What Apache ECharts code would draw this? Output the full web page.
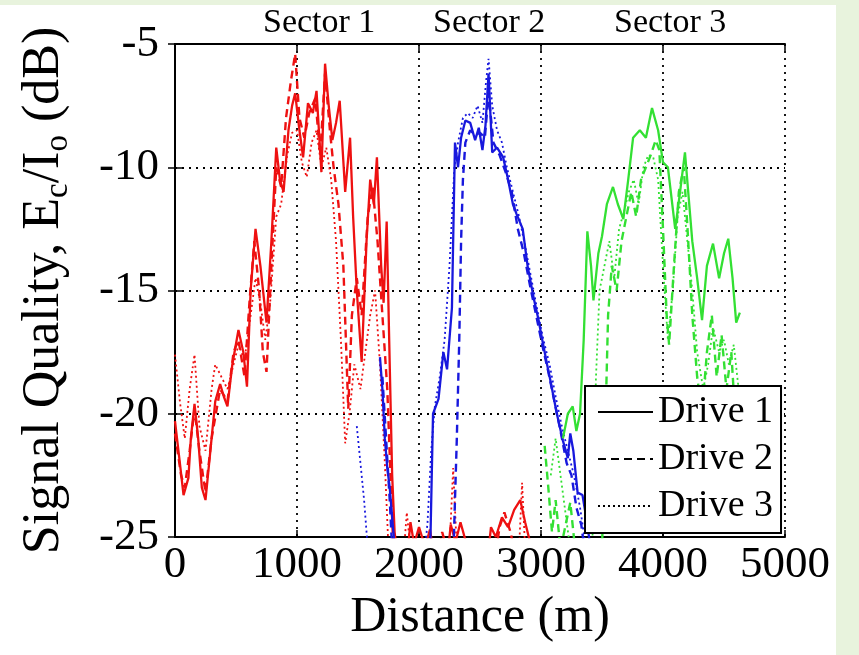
<!DOCTYPE html>
<html>
<head>
<meta charset="utf-8">
<script src="https://cdn.jsdelivr.net/npm/echarts@6/dist/echarts.min.js"></script>
<style>
  html, body { margin: 0; padding: 0; background: #fff; }
  #chart { width: 859px; height: 655px; }
</style>
</head>
<body>
<div id="chart"></div>
<script>
// distance (m), Ec/Io (dB); values below -25 are off the plot
var sector1Drive1 = [[0,-20.3],[40,-22],[70,-23.3],[110,-22.6],[130,-21],[160,-19.6],[190,-21],[220,-23],[250,-23.5],[290,-21.5],[330,-19.5],[370,-18.8],[400,-19.3],[430,-19.7],[470,-18],[520,-16.6],[560,-17.5],[590,-18.9],[620,-15],[660,-12.5],[700,-14],[750,-16.3],[790,-13],[830,-9.2],[860,-10.5],[890,-11],[930,-8.5],[960,-7.5],[985,-7],[1020,-8.5],[1050,-9.6],[1090,-7.4],[1130,-7.8],[1160,-6.9],[1200,-10.2],[1230,-5.8],[1260,-7.5],[1290,-8.9],[1320,-8.2],[1350,-7.3],[1395,-11],[1435,-8.8],[1460,-12],[1490,-15],[1530,-17.9],[1570,-13],[1600,-10.5],[1630,-11.5],[1655,-9.6],[1690,-14],[1710,-15.5],[1735,-12.2],[1760,-18],[1780,-22.5],[1800,-24.8],[1830,-26],[1900,-26],[1930,-24.4],[1960,-25.3],[2000,-24.6],[2050,-25.4],[2090,-24.7],[2130,-26],[2230,-26],[2260,-24.5],[2300,-25.2],[2340,-24.4],[2390,-25.3],[2430,-26],[2560,-26],[2590,-24.6],[2630,-25],[2680,-24.2],[2730,-24.6],[2780,-23.9],[2830,-23.5],[2870,-24.4],[2910,-25.2],[2950,-26]];
var sector1Drive2 = [[0,-20.8],[50,-22.5],[80,-23],[120,-21.5],[160,-19.8],[200,-21.5],[250,-23.2],[300,-21],[370,-19],[430,-19.5],[480,-17.5],[520,-17],[570,-18.5],[610,-15.5],[650,-13],[690,-15],[720,-17.5],[750,-18.3],[790,-14],[830,-10],[870,-10.8],[910,-8],[950,-6.5],[985,-5.4],[1020,-8],[1060,-8.8],[1100,-7.8],[1150,-7.2],[1190,-9.5],[1230,-6.2],[1270,-8.5],[1300,-10],[1340,-11.5],[1380,-14],[1420,-19.8],[1450,-16],[1490,-14.5],[1530,-16],[1580,-12],[1620,-10.8],[1660,-13],[1700,-16],[1740,-19],[1770,-23],[1790,-25.5],[1850,-26],[2150,-26],[2190,-24.8],[2230,-25.5],[2620,-26],[2660,-24.6],[2700,-24],[2750,-24.8],[2800,-26]];
var sector1Drive3 = [[0,-17.6],[40,-19.5],[80,-21],[120,-19],[160,-17.6],[200,-20.5],[250,-21.5],[300,-19],[330,-18],[380,-18.5],[430,-19],[480,-18],[520,-17.2],[570,-17.8],[620,-16],[660,-14.5],[700,-15.5],[740,-17],[780,-15.5],[830,-12],[870,-11.5],[920,-9.5],[960,-8.6],[1000,-8.5],[1040,-9.8],[1080,-10.4],[1120,-9],[1160,-8.5],[1200,-10],[1240,-9.2],[1280,-10.5],[1320,-13],[1360,-17],[1395,-21.2],[1430,-20],[1470,-18],[1520,-19],[1560,-17.5],[1600,-16],[1640,-15],[1680,-18],[1720,-22],[1750,-25.5],[1870,-26],[1900,-24],[1930,-25.5],[2250,-25.5],[2280,-22.2],[2310,-25.5],[2820,-25.5],[2845,-22.8],[2870,-25.5]];

var sector2Drive1 = [[1680,-17.7],[1700,-19],[1720,-21],[1740,-22.2],[1760,-23],[1790,-24.8],[1810,-26],[2090,-26],[2115,-20],[2160,-19.4],[2200,-17.5],[2230,-18.2],[2270,-15.7],[2295,-9],[2320,-10],[2345,-8.8],[2380,-8.1],[2420,-8.2],[2460,-8.9],[2490,-8.4],[2520,-9.3],[2545,-8.3],[2570,-6.2],[2600,-9.4],[2640,-9.2],[2690,-9.6],[2730,-10.5],[2770,-11.5],[2800,-11.9],[2850,-12.5],[2890,-14],[2940,-15.3],[2980,-16.2],[3010,-17],[3050,-18],[3075,-18.6],[3130,-20],[3180,-21.1],[3220,-21.8],[3240,-20.8],[3265,-21.5],[3300,-23.2],[3340,-23.3],[3380,-24.5],[3420,-26]];
var sector2Drive2 = [[1700,-18.5],[1730,-21],[1760,-23.5],[1780,-25.5],[2280,-26],[2310,-21],[2330,-17],[2345,-13],[2360,-10.5],[2380,-9],[2420,-8.5],[2460,-8.7],[2500,-8.6],[2540,-8.8],[2570,-7],[2610,-9],[2660,-9.5],[2710,-10.2],[2760,-11],[2810,-12.5],[2860,-13.5],[2910,-14.8],[2960,-16],[3010,-17.2],[3060,-18.3],[3110,-19.5],[3160,-20.7],[3210,-22],[3250,-22.5],[3290,-23.8],[3330,-24.5],[3370,-26]];
var sector2Drive3 = [[1490,-20.5],[1520,-22],[1550,-23.5],[1570,-24.8],[1590,-26],[2040,-26],[2070,-24.4],[2100,-21.5],[2130,-19.7],[2170,-18.5],[2210,-17],[2250,-14],[2290,-10],[2320,-9],[2360,-8],[2400,-7.8],[2440,-8],[2480,-7.5],[2520,-8.2],[2550,-6.5],[2570,-5.6],[2600,-7.5],[2640,-8.5],[2680,-9],[2720,-10],[2770,-11],[2820,-12],[2870,-13.2],[2920,-14.5],[2970,-15.8],[3020,-17],[3070,-18],[3120,-19.3],[3170,-20.5],[3220,-21.5],[3270,-22.5],[3320,-23.8],[3370,-25.5]];

var sector3Drive1 = [[3180,-21],[3220,-20],[3260,-19.7],[3290,-20.7],[3320,-20],[3350,-17],[3380,-12.6],[3410,-14],[3430,-15.4],[3470,-13.5],[3500,-12.8],[3540,-11.5],[3590,-10.8],[3630,-11.5],[3675,-12.1],[3715,-10.5],[3755,-8.8],[3810,-8.5],[3860,-8.8],[3910,-7.6],[3960,-8.5],[4000,-9.8],[4040,-10],[4100,-12.5],[4140,-11],[4180,-9.4],[4240,-13],[4280,-14.5],[4320,-16.2],[4360,-14],[4410,-13.1],[4460,-14.5],[4500,-13.5],[4535,-12.9],[4570,-14.5],[4600,-16.3],[4630,-15.9]];
var sector3Drive2 = [[3030,-21.3],[3060,-23],[3090,-24.8],[3120,-23.5],[3160,-25.5],[3240,-23.6],[3280,-25.5],[3500,-25.5],[3530,-20],[3550,-16],[3580,-14],[3620,-15],[3660,-13],[3700,-12],[3740,-11],[3780,-12],[3820,-10.5],[3860,-10],[3900,-9.5],[3940,-8.9],[3970,-9.3],[4000,-12.5],[4030,-16],[4050,-17.2],[4090,-14],[4130,-11],[4170,-10],[4200,-12.4],[4240,-16],[4280,-18.5],[4320,-20],[4360,-17.5],[4400,-16],[4440,-18.5],[4480,-16.8],[4520,-19],[4560,-17.5],[4590,-20],[4620,-19]];
var sector3Drive3 = [[3080,-22.5],[3120,-21],[3160,-22.5],[3200,-24],[3240,-25.5],[3420,-25.5],[3450,-18.6],[3480,-15],[3520,-14],[3560,-13],[3600,-14.5],[3640,-12.5],[3680,-11.8],[3720,-11],[3760,-10.5],[3800,-11.5],[3840,-10],[3880,-9.5],[3920,-9.6],[3960,-10.5],[4000,-14],[4040,-17],[4080,-15],[4120,-12],[4160,-11],[4200,-13],[4240,-15],[4280,-17.5],[4330,-19],[4370,-18],[4410,-16.5],[4460,-17.5],[4500,-17],[4540,-18],[4580,-17.2],[4620,-19]];

var drives = ['Drive 1', 'Drive 2', 'Drive 3'];
var sectorLabels = ['Sector 1', 'Sector 2', 'Sector 3'];
var sectorColors = ['#ee1111', '#1818dd', '#33e033'];
var xTicks = [0, 5000, 1000];
var yTicks = [-25, -5, 5];

var serif = '"Liberation Serif", "DejaVu Serif", serif';
var dashTypes = ['solid', [8, 5], [2, 3]];
var dashWidths = [2.3, 2.4, 1.8];

var seriesData = [
  [sector1Drive1, sector1Drive2, sector1Drive3],
  [sector2Drive1, sector2Drive2, sector2Drive3],
  [sector3Drive1, sector3Drive2, sector3Drive3]
];

var series = [];
for (var s = 0; s < 3; s++) {
  for (var d = 0; d < 3; d++) {
    series.push({
      name: sectorLabels[s] + ' ' + drives[d],
      type: 'line',
      data: seriesData[s][d],
      symbol: 'none',
      clip: true,
      z: 3,
      lineStyle: { color: sectorColors[s], width: dashWidths[d], type: dashTypes[d] }
    });
  }
}
// legend only entries (black line samples, symbol made transparent)
for (var d = 0; d < 3; d++) {
  series.push({
    name: drives[d],
    type: 'line',
    data: [],
    symbol: 'none',
    itemStyle: { color: 'rgba(0,0,0,0)', borderWidth: 0 },
    lineStyle: { color: '#000', width: d == 2 ? 1.5 : 2, type: dashTypes[d] }
  });
}

var axisLine = { show: true, lineStyle: { color: '#000', width: 2 } };
var tick = { show: true, inside: true, length: 7, lineStyle: { color: '#000', width: 1.5 } };
var grid = { show: true, lineStyle: { color: '#000', width: 1.8, type: [2, 5] } };

var chart = echarts.init(document.getElementById('chart'));
var option = {
  animation: false,
  backgroundColor: '#fff',
  grid: { left: 175, right: 74, top: 44, bottom: 118 },
  graphic: [
    { type: 'rect', z: -10, shape: { x: 0, y: 0, width: 859, height: 5 }, style: { fill: '#e8f3dd' } },
    { type: 'rect', z: -10, shape: { x: 836, y: 0, width: 23, height: 655 }, style: { fill: '#e8f3dd' } },
    { type: 'text', left: 263, top: 6, style: { text: sectorLabels[0], font: '34px ' + serif, fill: '#000' } },
    { type: 'text', left: 433, top: 6, style: { text: sectorLabels[1], font: '34px ' + serif, fill: '#000' } },
    { type: 'text', left: 614, top: 6, style: { text: sectorLabels[2], font: '34px ' + serif, fill: '#000' } }
  ],
  legend: {
    data: drives,
    orient: 'vertical',
    left: 585,
    top: 386,
    backgroundColor: '#fff',
    borderColor: '#000',
    borderWidth: 2,
    borderRadius: 0,
    padding: [7, 8, 8, 12],
    itemGap: 9,
    itemWidth: 55,
    itemHeight: 38,
    itemStyle: { color: 'rgba(0,0,0,0)', borderWidth: 0 },
    textStyle: { fontFamily: serif, fontSize: 38, color: '#000' },
    z: 10
  },
  xAxis: [{
    type: 'value',
    min: xTicks[0], max: xTicks[1], interval: xTicks[2],
    axisLine: axisLine, axisTick: tick, splitLine: grid,
    axisLabel: { fontFamily: serif, fontSize: 45, color: '#000', margin: 6, showMinLabel: true, showMaxLabel: true,
      formatter: function (v) { return String(v); } },
    name: 'Distance (m)',
    nameLocation: 'middle',
    nameGap: 46,
    nameTextStyle: { fontFamily: serif, fontSize: 50, color: '#000' }
  }, {
    type: 'value', position: 'top',
    min: xTicks[0], max: xTicks[1], interval: xTicks[2],
    axisLine: axisLine, axisTick: tick, splitLine: { show: false }, axisLabel: { show: false }
  }],
  yAxis: [{
    type: 'value',
    min: yTicks[0], max: yTicks[1], interval: yTicks[2],
    axisLine: axisLine, axisTick: tick, splitLine: grid,
    axisLabel: { fontFamily: serif, fontSize: 45, color: '#000', margin: 16, showMinLabel: true, showMaxLabel: true },
    name: '{a|Signal Quality, E}{s|c}{a|/I}{s|o}{a| (dB)}',
    nameLocation: 'middle',
    nameGap: 100,
    nameRotate: 90,
    nameTextStyle: {
      color: '#000',
      rich: {
        a: { fontFamily: serif, fontSize: 52, lineHeight: 62, verticalAlign: 'middle', color: '#000' },
        s: { fontFamily: serif, fontSize: 33, lineHeight: 30, verticalAlign: 'bottom', color: '#000' }
      }
    }
  }, {
    type: 'value', position: 'right',
    min: yTicks[0], max: yTicks[1], interval: yTicks[2],
    axisLine: axisLine, axisTick: tick, splitLine: { show: false }, axisLabel: { show: false }
  }],
  series: series
};
chart.setOption(option);
</script>
</body>
</html>
